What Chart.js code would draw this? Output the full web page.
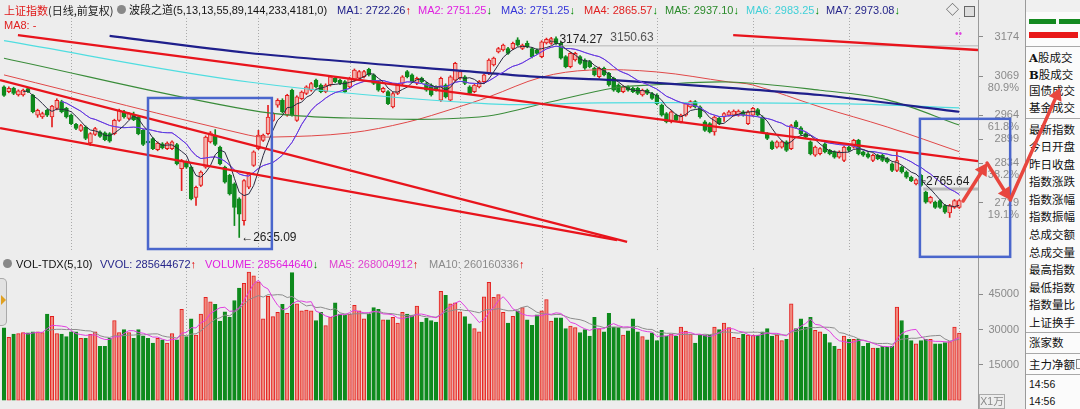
<!DOCTYPE html>
<html><head><meta charset="utf-8">
<script src="https://cdn.jsdelivr.net/npm/chart.js@4/dist/chart.umd.min.js"></script>
<style>
html,body{margin:0;padding:0;width:1080px;height:409px;overflow:hidden;background:#ededed;font-family:"Liberation Sans","Noto Sans CJK SC",sans-serif;}
#wrap{position:relative;width:1080px;height:409px;}
canvas{position:absolute;left:0;top:0;}
#cvP{z-index:6;pointer-events:none}
#cvV{z-index:2}
#side{position:absolute;left:1025px;top:0;width:55px;height:409px;background:#fbfbfb;border-left:1px solid #9a9a9a;z-index:3}
.sl{position:absolute;left:3px;font-size:11.5px;line-height:14px;color:#111;white-space:nowrap;font-family:"Noto Sans CJK SC",sans-serif}
.sep{position:absolute;left:0;width:55px;height:1px;background:#a8a8a8}
.lg{position:absolute;font-size:11px;line-height:13px;white-space:nowrap;z-index:4}
.up{color:#e00000}.dn{color:#008a00}
#vline{position:absolute;left:978px;top:0;width:1px;height:409px;background:#9a9a9a;z-index:1}
</style></head>
<body><div id="wrap">
<div id="vline"></div>
<canvas id="cvV" width="1080" height="409"></canvas>
<canvas id="cvP" width="1080" height="409"></canvas>

<div class="lg" style="left:4px;top:4px;color:#e01818;font-family:'Noto Sans CJK SC'">上证指数</div>
<div class="lg" style="left:48px;top:4px;color:#222;font-family:'Noto Sans CJK SC'">(日线,前复权)</div>
<div class="lg" style="left:117px;top:5px;width:9px;height:9px;border-radius:50%;background:#888"></div>
<div class="lg" style="left:129px;top:4px;color:#111">波段之道(5,13,13,55,89,144,233,4181,0)</div>
<div class="lg" style="left:337px;top:4px;color:#20208a">MA1: 2722.26<span class="up">↑</span></div>
<div class="lg" style="left:418px;top:4px;color:#e020e0">MA2: 2751.25<span class="dn">↓</span></div>
<div class="lg" style="left:501px;top:4px;color:#3535d8">MA3: 2751.25<span class="dn">↓</span></div>
<div class="lg" style="left:584px;top:4px;color:#e02020">MA4: 2865.57<span class="dn">↓</span></div>
<div class="lg" style="left:665px;top:4px;color:#2a8a2a">MA5: 2937.10<span class="dn">↓</span></div>
<div class="lg" style="left:746px;top:4px;color:#40d0d8">MA6: 2983.25<span class="dn">↓</span></div>
<div class="lg" style="left:826px;top:4px;color:#25258a">MA7: 2973.08<span class="dn">↓</span></div>
<div class="lg" style="left:4px;top:19px;color:#e02020">MA8: -</div>
<div class="lg" style="left:946px;top:3px;color:#555;font-size:13px">◇</div>
<div class="lg" style="left:964px;top:6px;width:9px;height:9px;border:1px solid #666;background:#ddd"></div>
<div class="lg" style="left:955px;top:27px;color:#e040e0;font-size:10px">••</div>

<div class="lg" style="left:3px;top:259px;width:9px;height:9px;border-radius:50%;background:#888"></div>
<div class="lg" style="left:16px;top:258px;color:#111">VOL-TDX(5,10)</div>
<div class="lg" style="left:100px;top:258px;color:#25258a">VVOL: 285644672<span class="up">↑</span></div>
<div class="lg" style="left:205px;top:258px;color:#e020e0">VOLUME: 285644640<span class="dn">↓</span></div>
<div class="lg" style="left:329px;top:258px;color:#e040d0">MA5: 268004912<span class="up">↑</span></div>
<div class="lg" style="left:429px;top:258px;color:#8a8a8a">MA10: 260160336<span class="up">↑</span></div>
<div class="lg" style="left:0px;top:278px;width:6px;height:46px;border:1px solid #aaa;border-left:none;border-radius:0 5px 5px 0;background:#e2e2e2"></div>
<div class="lg" style="left:1px;top:295px;width:0;height:0;border-top:5px solid transparent;border-bottom:5px solid transparent;border-left:5px solid #e0a020"></div>
<div class="lg" style="left:979px;top:394px;width:24px;height:13px;border:1px solid #aaa;color:#888;font-size:10.5px;text-align:center">X1万</div>

<div id="side">
  <div class="sep" style="top:0;height:12px;background:#f0f0f0"></div>
  <div style="position:absolute;left:3px;top:19px;width:27px;height:5px;background:#148a20"></div>
  <div style="position:absolute;left:33px;top:19px;width:21px;height:5px;background:#148a20"></div>
  <div style="position:absolute;left:3px;top:32px;width:49px;height:6px;background:#e81818"></div>
  <div class="sep" style="top:46px"></div>
  <div class="sl" style="top:50px"><b style="font-family:'DejaVu Serif'">A</b>股成交</div>
  <div class="sl" style="top:67px"><b style="font-family:'DejaVu Serif'">B</b>股成交</div>
  <div class="sl" style="top:83px">国债成交</div>
  <div class="sl" style="top:100px">基金成交</div>
  <div class="sep" style="top:118px"></div>
  <div class="sl" style="top:122px">最新指数</div>
  <div class="sl" style="top:139px">今日开盘</div>
  <div class="sl" style="top:157px">昨日收盘</div>
  <div class="sl" style="top:174px">指数涨跌</div>
  <div class="sl" style="top:192px">指数涨幅</div>
  <div class="sl" style="top:209px">指数振幅</div>
  <div class="sl" style="top:227px">总成交额</div>
  <div class="sl" style="top:245px">总成交量</div>
  <div class="sl" style="top:262px">最高指数</div>
  <div class="sl" style="top:280px">最低指数</div>
  <div class="sl" style="top:297px">指数量比</div>
  <div class="sl" style="top:315px">上证换手</div>
  <div class="sep" style="top:332px"></div>
  <div class="sl" style="top:335px">涨家数</div>
  <div class="sep" style="top:353px"></div>
  <div class="sl" style="top:357px">主力净额<span style="display:inline-block;width:6px;height:8px;border:1px solid #888;margin-left:1px"></span></div>
  <div class="sep" style="top:374px"></div>
  <div class="sl" style="top:377px;font-size:10.5px;font-family:'Liberation Sans'">14:56</div>
  <div class="sl" style="top:394px;font-size:10.5px;font-family:'Liberation Sans'">14:56</div>
</div>
</div>
<script>
// ---------- data ----------
const opens=[3040,3027,3036,3018,3018,3035,3017,2964,2959,2977,
2959,2982,3000,2982,2964,2939,2923,2932,2889,2912,
2919,2916,2914,2914,2950,2973,2955,2966,2959,2923,
2894,2901,2871,2887,2874,2874,2885,2820,2838,2824,
2743,2775,2824,2892,2910,2878,2824,2802,2779,2739,
2680,2770,2829,2874,2896,2914,2950,2991,3004,2964,
3031,2950,3008,3022,3031,3058,3045,3027,3045,3063,
3058,3054,3040,3058,3063,3067,3087,3072,3054,3027,
3027,2986,3022,3049,3081,3072,3049,3063,3049,3045,
3040,3004,3045,3004,3058,3063,3067,3040,3027,3040,
3054,3076,3099,3134,3139,3143,3143,3166,3143,3157,
3143,3139,3121,3158,3157,3170,3157,3121,3094,3112,
3121,3112,3108,3090,3067,3090,3076,3063,3045,3027,
3040,3036,3036,3018,3031,3022,3018,2991,2968,2946,
2964,2946,2964,2986,3000,2986,2946,2941,2919,2955,
2959,2964,2964,2964,2973,2941,2964,2979,2959,2914,
2892,2878,2878,2892,2874,2946,2930,2914,2892,2856,
2860,2887,2869,2865,2851,2842,2878,2878,2896,2865,
2860,2842,2856,2856,2847,2833,2815,2824,2811,2797,
2779,2802,2757,2730,2730,2734,2721,2701,2716,2716];
const highs=[3043,3040,3039,3032,3034,3038,3020,2980,2972,2980,
2990,3008,3004,2985,2967,2942,2939,2935,2917,2931,
2922,2919,2917,2953,2980,2977,2971,2972,2962,2926,
2897,2904,2892,2890,2892,2895,2888,2845,2841,2827,
2773,2814,2908,2920,2925,2881,2827,2805,2782,2742,
2791,2810,2868,2923,2913,2990,2971,3008,3008,3020,
3034,3016,3029,3043,3052,3061,3048,3048,3070,3066,
3061,3057,3066,3088,3084,3084,3090,3075,3057,3039,
3030,3025,3048,3070,3084,3075,3066,3066,3052,3048,
3043,3066,3048,3070,3106,3084,3070,3043,3048,3057,
3075,3115,3120,3146,3155,3146,3160,3172,3155,3163,
3146,3142,3164,3171,3173,3174.27,3160,3124,3133,3133,
3124,3115,3111,3093,3093,3093,3079,3066,3048,3043,
3043,3039,3039,3034,3034,3025,3021,2994,2971,2976,
2967,2967,2998,3003,3003,2989,2949,2944,2962,2958,
2971,2976,2978,2978,2976,2976,2985,2982,2962,2917,
2895,2895,2895,2895,2939,2949,2933,2917,2895,2881,
2877,2890,2872,2868,2868,2881,2881,2899,2899,2868,
2863,2859,2859,2859,2850,2836,2865,2827,2814,2800,
2793,2805,2760,2746,2733,2737,2724,2724,2737,2737];
const lows=[3014,3024,3019,3015,3015,3024,2970,2958,2955,2960,
2932,2978,2970,2956,2938,2925,2920,2898,2882,2909,
2904,2895,2891,2911,2947,2956,2952,2949,2911,2882,
2886,2871,2868,2873,2871,2871,2830,2761,2821,2736,
2721,2772,2821,2889,2882,2830,2781,2749,2667,2635.09,
2668,2766,2826,2871,2893,2911,2947,2985,2970,2961,
2961,2947,3005,3019,3028,3037,3024,3024,3042,3051,
3046,3024,3037,3055,3060,3064,3069,3046,3028,3024,
2992,2983,3019,3046,3064,3051,3046,3051,3028,3015,
3028,3001,3010,3001,3055,3060,3046,3019,3024,3037,
3051,3073,3096,3131,3136,3127,3140,3149,3140,3145,
3118,3127,3118,3155,3154,3154,3114,3091,3091,3109,
3100,3087,3091,3069,3064,3069,3042,3028,3024,3024,
3028,3024,3019,3015,3019,3006,2992,2961,2943,2943,
2947,2943,2961,2983,2983,2956,2920,2916,2910,2938,
2947,2961,2961,2961,2961,2938,2961,2961,2916,2898,
2871,2875,2875,2866,2871,2929,2911,2902,2857,2853,
2857,2862,2857,2848,2848,2839,2866,2875,2857,2853,
2848,2839,2844,2839,2835,2812,2812,2808,2794,2785,
2776,2772,2727,2727,2713,2713,2700,2689,2713,2713];
const closes=[3017,3036,3022,3029,3031,3027,2973,2977,2968,2964,
2988,3004,2973,2959,2941,2928,2936,2901,2914,2928,
2907,2898,2894,2950,2977,2959,2968,2952,2914,2885,
2889,2874,2889,2876,2889,2892,2833,2842,2824,2739,
2770,2811,2905,2916,2885,2833,2784,2752,2716,2698,
2788,2806,2865,2910,2910,2959,2968,3004,2973,3017,
2964,3013,3026,3040,3049,3040,3027,3045,3067,3054,
3049,3027,3063,3085,3081,3081,3072,3049,3031,3036,
2995,3022,3045,3067,3067,3054,3063,3054,3031,3018,
3031,3063,3013,3067,3103,3081,3049,3022,3045,3054,
3072,3112,3117,3143,3152,3130,3157,3152,3152,3148,
3121,3130,3161,3168,3170,3157,3117,3094,3130,3130,
3103,3090,3094,3072,3090,3072,3045,3031,3027,3040,
3031,3027,3022,3031,3022,3009,2995,2964,2946,2973,
2950,2964,2995,3000,2986,2959,2923,2919,2959,2941,
2968,2973,2975,2975,2964,2973,2982,2964,2919,2901,
2874,2892,2892,2869,2936,2932,2914,2905,2860,2878,
2874,2865,2860,2851,2865,2878,2869,2896,2860,2856,
2851,2856,2847,2842,2838,2815,2842,2811,2797,2788,
2790,2775,2730,2743,2716,2716,2703,2721,2734,2734];
// volume in 万
const volumes=[30800,26700,28100,28360,28770,28630,29050,29050,28770,36580,
35620,28360,28090,26990,29050,29050,26310,26310,27950,29050,
22880,22880,26310,33840,28770,30000,28770,26310,30000,27260,
26310,24250,26310,25620,24250,28360,25620,38640,26990,34530,
27680,36580,43700,41790,40690,33570,37540,35210,42340,47540,
49600,54390,52750,50280,34530,44120,35480,37270,40690,36850,
54120,40960,37950,38220,37950,33840,37270,31650,35210,41380,
36580,36310,36580,40280,37950,34530,36580,39320,38640,34110,
34110,35210,32740,37270,36580,35900,40010,33160,34800,33840,
33160,46170,44530,40960,41380,37540,35480,32470,30420,29050,
43840,50010,43700,44800,37270,32740,35620,37950,39320,34110,
31780,36310,37950,42750,33570,34940,34940,30420,31510,30830,
28770,30000,27260,35210,30420,29050,36850,31100,30830,27680,
29460,34530,29050,26990,25620,28630,25350,29730,27260,28090,
27260,31100,29320,28090,24250,27680,27680,27680,31100,30000,
32740,30830,26720,26310,28090,27680,27680,27680,29050,30420,
27260,27680,25350,25890,40960,30420,34530,31100,35210,29730,
29050,28090,24520,22880,21780,27260,25890,25890,25890,22880,
24250,22190,22190,22880,22610,22880,39590,33840,27680,25350,
23980,25350,25890,25890,23980,23980,24520,24940,31100,28564];
// long moving averages (index, value)
const ma4Idx=[0,51,56,72,84,94,101,112,122,136,151,156,170,184,199];
const ma4Val=[3072,2910,2905,2916,2945,2983,3013,3066,3085,3080,3053,3045,2986,2932,2865.57];
const ma5Idx=[0,51,72,99,113,127,135,151,170,184,199];
const ma5Val=[3117,2978,2956,2959,2997,3037,3045,3053,3031,3005,2937.10];
const ma6Idx=[0,51,101,124,151,176,199];
const ma6Val=[3164,3053,2994,2997,2997,2994,2983.25];
const ma7Idx=[22,51,101,112,127,151,170,199];
const ma7Val=[3177,3131,3077,3066,3058,3037,3018,2973.08];
// drawn trend lines [x1,p1,x2,p2]
const trendLines=[[2.9,3179,202.9,2840],[-0.83,3058,129.8,2623],[-0.83,2929,127.7,2628],[151.9,3179,202.9,3139]];
const levelLines=[[116,202.9,3150.63],[191.5,202.9,2765.64]];
const monthIdx=[14,38,53,72,95,112,136,156,176,199];
const priceTicks=[3174,3069,2964,2899,2834,2729];
const fibLevels=[3069,2964,2834,2729];
const fibLabels=['80.9%','61.8%','38.2%','19.1%'];
const volTicks=[15000,30000,45000];
const boxes=[[30,3010,55.8,2604],[190.8,2954,209.6,2583]];
const arrowPath=[[199.8,2733],[204.8,2835],[209.6,2736],[220,3037]];
const notes=[[113.2,3174.27,'←3174.27',3,'#222'],[126.3,3150.63,'3150.63',-8,'#555'],[49.4,2635.09,'←2635.09',0,'#222'],[191.2,2765.64,'▫2765.64',-7,'#222']];

// ---------- helpers ----------
const N=closes.length;
const idx=[...Array(N).keys()];
const isUp=i=>closes[i]>=opens[i];
function sma(arr,n){const out=[];for(let i=n-1;i<arr.length;i++){let s=0;for(let k=i-n+1;k<=i;k++)s+=arr[k];out.push({x:i,y:s/n});}return out;}
const pts=(ix,vals)=>ix.map((x,k)=>({x,y:vals[k]}));
const XMIN=-0.833, XMAX=202.9;
const RED='#e41e1e', GREEN='#0e8a1c';

function lineDS(data,color,w,tension,order){return {type:'line',data,borderColor:color,borderWidth:w,pointRadius:0,tension:tension||0,fill:false,order:order||0};}

const dotted={id:'dotted',beforeDatasetsDraw(c){const {ctx,chartArea:a,scales:{x}}=c;ctx.save();ctx.strokeStyle='#a9a9a9';ctx.lineWidth=1;ctx.setLineDash([1,2]);
  monthIdx.forEach(m=>{const px=Math.round(x.getPixelForValue(m))+0.5;ctx.beginPath();ctx.moveTo(px,a.top);ctx.lineTo(px,a.bottom);ctx.stroke();});ctx.restore();}};

function arrow(ctx,x0,y0,x1,y1){const ang=Math.atan2(y1-y0,x1-x0),L=12,W=7;
  const bx=x1-L*Math.cos(ang),by=y1-L*Math.sin(ang);
  ctx.beginPath();ctx.moveTo(x0,y0);ctx.lineTo(bx,by);ctx.stroke();
  ctx.beginPath();ctx.moveTo(x1,y1);ctx.lineTo(bx+W*Math.sin(ang),by-W*Math.cos(ang));ctx.lineTo(bx-W*Math.sin(ang),by+W*Math.cos(ang));ctx.closePath();ctx.fill();}

const annot={id:'annot',
 afterDatasetsDraw(c){const {ctx,scales:{x,y}}=c;ctx.save();
  ctx.font='12px "Liberation Sans","DejaVu Sans"';ctx.textBaseline='middle';
  notes.forEach(n=>{ctx.fillStyle=n[4];ctx.fillText(n[2],x.getPixelForValue(n[0]),y.getPixelForValue(n[1])+n[3]);});
  ctx.restore();},
 afterDraw(c){const {ctx,scales:{x,y}}=c;ctx.save();
  ctx.font='11px "Liberation Sans"';ctx.fillStyle='#8a8a8a';ctx.textAlign='right';ctx.textBaseline='middle';
  fibLevels.forEach((v,k)=>ctx.fillText(fibLabels[k],1019,y.getPixelForValue(v)+12));
  ctx.strokeStyle='#4a66cc';ctx.lineWidth=2.5;
  boxes.forEach(b=>{const x0=x.getPixelForValue(b[0]),y0=y.getPixelForValue(b[1]),x1=x.getPixelForValue(b[2]),y1=y.getPixelForValue(b[3]);ctx.strokeRect(x0,y0,x1-x0,y1-y0);});
  ctx.strokeStyle='#e8463e';ctx.fillStyle='#e8463e';ctx.lineWidth=3.5;ctx.lineCap='round';
  for(let k=0;k<arrowPath.length-1;k++){const a=arrowPath[k],b=arrowPath[k+1];
    arrow(ctx,x.getPixelForValue(a[0]),y.getPixelForValue(a[1]),x.getPixelForValue(b[0]),y.getPixelForValue(b[1]));}
  ctx.restore();}};

// ---------- price chart ----------
const priceDatasets=[
 {type:'bar',data:idx.map(i=>({x:i,y:[lows[i],highs[i]]})),backgroundColor:idx.map(i=>isUp(i)?RED:GREEN),barThickness:1,grouped:false,order:11},
 {type:'bar',data:idx.map(i=>({x:i,y:[opens[i],closes[i]]})),backgroundColor:idx.map(i=>isUp(i)?'#f5b3ad':GREEN),borderColor:idx.map(i=>isUp(i)?RED:GREEN),borderWidth:1,borderSkipped:false,barThickness:4,grouped:false,order:10},
 lineDS(pts(ma6Idx,ma6Val),'#4fdde0',1.2,0.35,5),
 lineDS(pts(ma5Idx,ma5Val),'#3a8c3a',1.1,0.35,5),
 lineDS(pts(ma4Idx,ma4Val),'#e04848',1,0.35,5),
 lineDS(pts(ma7Idx,ma7Val),'#1f1f8c',2.2,0.3,4),
 lineDS(sma(closes,13),'#e030e0',1,0,3),
 lineDS(sma(closes,13),'#4848e0',1,0,2),
 lineDS(sma(closes,5),'#2a2a40',1,0,1),
 ...trendLines.map(t=>lineDS([{x:t[0],y:t[1]},{x:t[2],y:t[3]}],'#e8141c',2.3,0,0)),
 ...levelLines.map((l,k)=>lineDS([{x:l[0],y:l[2]},{x:l[1],y:l[2]}],k?'#b8b8b8':'#c8c8c8',k?3:1.5,0,6))
];
new Chart(document.getElementById('cvP'),{type:'bar',data:{datasets:priceDatasets},
 options:{responsive:false,animation:false,events:[],
  layout:{padding:{top:18,bottom:157,left:0,right:61}},
  plugins:{legend:{display:false},tooltip:{enabled:false}},
  scales:{
   x:{type:'linear',display:false,offset:false,min:XMIN,max:XMAX},
   y:{position:'right',min:2596,max:3225,afterFit:s=>{s.width=41;},
      afterBuildTicks:s=>{s.ticks=priceTicks.map(v=>({value:v}));},
      grid:{drawOnChartArea:false,drawTicks:true,tickLength:5,color:'#8a8a8a'},
      border:{display:true,color:'#9a9a9a'},
      ticks:{color:'#8a8a8a',font:{size:11,family:'Liberation Sans'},crossAlign:'far',padding:2,callback:v=>String(v)}}
  }},
 plugins:[dotted,annot]});

// ---------- volume chart ----------
new Chart(document.getElementById('cvV'),{type:'bar',data:{datasets:[
 {type:'bar',data:idx.map(i=>({x:i,y:volumes[i]})),backgroundColor:idx.map(i=>isUp(i)?'#f08a7e':GREEN),borderColor:idx.map(i=>isUp(i)?RED:GREEN),borderWidth:1,borderSkipped:false,barThickness:3.6,grouped:false,order:5},
 lineDS(sma(volumes,10),'#8c8c8c',1,0,1),
 lineDS(sma(volumes,5),'#e040e0',1,0,0)
]},
 options:{responsive:false,animation:false,events:[],
  layout:{padding:{top:268,bottom:4.5,left:0,right:61}},
  plugins:{legend:{display:false},tooltip:{enabled:false}},
  scales:{
   x:{type:'linear',display:false,offset:false,min:XMIN,max:XMAX},
   y:{position:'right',min:0,max:56100,afterFit:s=>{s.width=41;},
      afterBuildTicks:s=>{s.ticks=volTicks.map(v=>({value:v}));},
      grid:{drawOnChartArea:false,drawTicks:true,tickLength:5,color:'#8a8a8a'},
      border:{display:true,color:'#9a9a9a'},
      ticks:{color:'#8a8a8a',font:{size:11,family:'Liberation Sans'},crossAlign:'far',padding:2,callback:v=>String(v)}}
  }},
 plugins:[dotted]});
</script>
</body></html>
